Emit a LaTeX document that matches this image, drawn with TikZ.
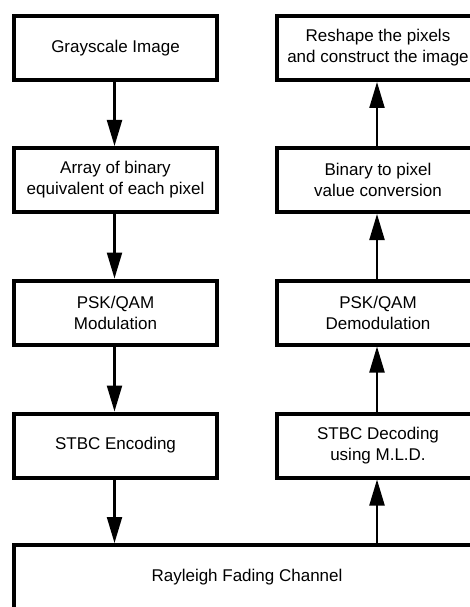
\documentclass[tikz,border=0pt]{standalone}
\usepackage{fontspec}
\setmainfont{Liberation Sans}
\usetikzlibrary{arrows.meta}
\begin{document}
\begin{tikzpicture}[x=1pt,y=-1pt,
  blk/.style={draw=black,line width=4pt,fill=white,minimum width=203pt,minimum height=64pt,
    align=center,inner sep=0pt,font=\fontsize{17}{21}\selectfont},
  arr/.style={line width=2.2pt,-{Triangle[length=26pt,width=15pt]}}]
\useasboundingbox (0,0) rectangle (470,607);
\begin{scope}
\clip (0,0) rectangle (470,607);
\node[blk] (g) at (115.5,48) {Grayscale Image};
\node[blk] (a) at (115.5,180) {Array of binary\\equivalent of each pixel};
\node[blk] (m) at (115.5,312.5) {PSK/QAM\\Modulation};
\node[blk] (e) at (115.5,445.5) {STBC Encoding};
\node[blk] (r) at (378,48) {Reshape the pixels\\and construct the image};
\node[blk] (b) at (378,180) {Binary to pixel\\value conversion};
\node[blk] (dm) at (378,312.5) {PSK/QAM\\Demodulation};
\node[blk] (d) at (378,445.5) {STBC Decoding\\using M.L.D.};
\node[blk,minimum width=466pt] (c) at (247,577) {Rayleigh Fading Channel};
\draw[arr] ([xshift=-1pt]g.south) -- ([xshift=-1pt]a.north);
\draw[arr] ([xshift=-1pt]a.south) -- ([xshift=-1pt]m.north);
\draw[arr] ([xshift=-1pt]m.south) -- ([xshift=-1pt]e.north);
\draw[arr] ([xshift=-1pt]e.south) -- ([xshift=-1pt]e.south |- c.north);
\draw[arr] ([xshift=-1pt]d.south |- c.north) -- ([xshift=-1pt]d.south);
\draw[arr] ([xshift=-1pt]d.north) -- ([xshift=-1pt]dm.south);
\draw[arr] ([xshift=-1pt]dm.north) -- ([xshift=-1pt]b.south);
\draw[arr] ([xshift=-1pt]b.north) -- ([xshift=-1pt]r.south);
\end{scope}
\end{tikzpicture}
\end{document}
